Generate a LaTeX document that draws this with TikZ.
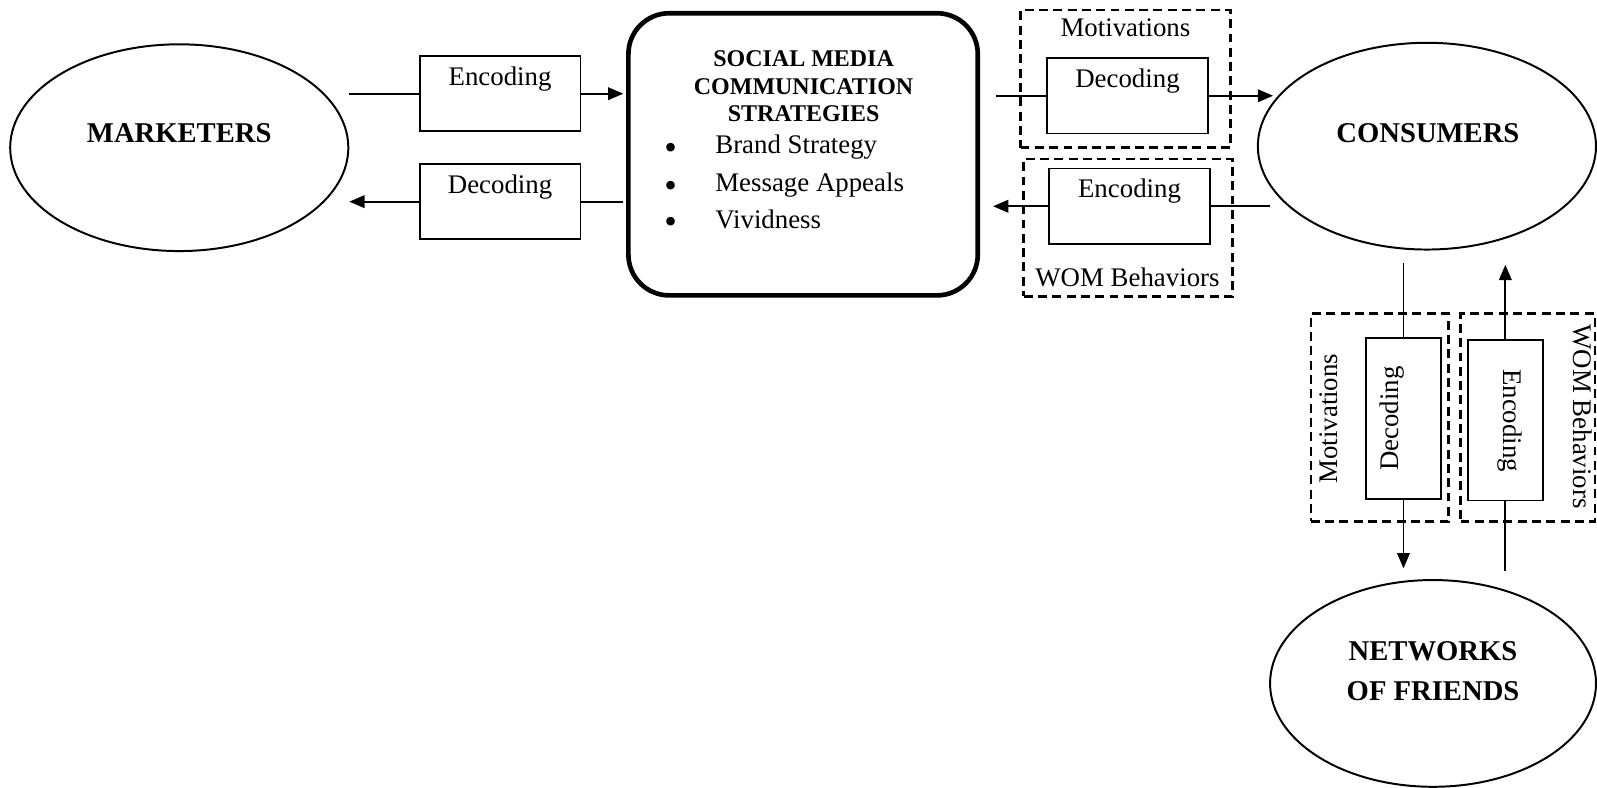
\documentclass[tikz,border=0pt]{standalone}
\usepackage{fontspec}
\setmainfont{Liberation Serif}
\usetikzlibrary{shapes,arrows.meta,positioning,calc}

\newcommand{\bigdot}{\makebox[10mm][l]{\smash{\raisebox{-1.1mm}{\fontsize{20}{20}\selectfont\textbullet}}}}

\begin{document}
\begin{tikzpicture}[x=0.2mm, y=-0.2mm,
    actor/.style={draw, ellipse, line width=1.1pt, minimum width=6.64cm,
                  minimum height=4.06cm},
    actor_lbl/.style={font=\fontsize{16}{22.5}\selectfont\bfseries, align=center},
    code_box/.style={draw, line width=1pt, minimum width=3.16cm,
                     minimum height=1.48cm},
    vcode_box/.style={draw, line width=1pt, minimum width=1.48cm,
                      minimum height=3.16cm},
    code_txt/.style={font=\fontsize{15}{18}\selectfont, inner sep=0pt},
    group_box/.style={draw, line width=1.4pt, dash pattern=on 5pt off 3pt},
    main_box/.style={draw, line width=2.6pt, rounded corners=8mm,
                     minimum width=6.86cm, minimum height=5.54cm},
    arr/.style={-{Triangle[length=8.5pt, width=7pt]}, line width=1.1pt},
    ln/.style={line width=1.1pt}
]
\useasboundingbox (0,0) rectangle (1568,773);

% Actors
\node[actor] (mkt) at (176,145) {};
\node[actor_lbl] (mkt_lbl) at (176,131) {MARKETERS};
\node[actor] (cons) at (1401,143.5) {};
\node[actor_lbl] (cons_lbl) at (1402,131) {CONSUMERS};
\node[actor, minimum width=6.4cm] (net) at (1407,671) {};
\node[actor_lbl] (net_lbl) at (1407,659) {NETWORKS\\OF FRIENDS};

% Strategies box (centre)
\node[main_box] (smcs) at (788.5,151.5) {};
\node[font=\fontsize{13.4}{15.4}\selectfont\bfseries, align=center] (smcs_head)
    at (789,85) {SOCIAL MEDIA\\COMMUNICATION\\STRATEGIES};
\node[code_txt, anchor=base west] (b1) at (652,151) {\bigdot Brand Strategy};
\node[code_txt, anchor=base west] (b2) at (652,188) {\bigdot Message Appeals};
\node[code_txt, anchor=base west] (b3) at (652,224) {\bigdot Vividness};

% Marketers <-> strategies
\node[code_box] (enc_l) at (491,92) {};
\node[code_txt] (enc_l_t) at (491,78) {Encoding};
\node[code_box] (dec_l) at (491,198) {};
\node[code_txt] (dec_l_t) at (491,184) {Decoding};

\coordinate (mkt_out) at (343,92);
\coordinate (smcs_in) at (612,92);
\coordinate (smcs_out) at (612,198);
\coordinate (mkt_in) at (343,198);
\draw[ln] (mkt_out) -- (enc_l.west);
\draw[arr] (enc_l.east) -- (smcs_in);
\draw[ln] (smcs_out) -- (dec_l.east);
\draw[arr] (dec_l.west) -- (mkt_in);

% Strategies <-> consumers
\node[group_box, minimum width=4.12cm, minimum height=2.7cm] (mot_grp) at (1105,77.5) {};
\node[code_txt] (mot_t) at (1105,27) {Motivations};
\node[code_box] (dec_r) at (1107,94) {};
\node[code_txt] (dec_r_t) at (1107,80) {Decoding};

\node[group_box, minimum width=4.1cm, minimum height=2.7cm] (wom_grp) at (1107.5,223.5) {};
\node[code_txt] (wom_t) at (1107,272) {WOM Behaviors};
\node[code_box] (enc_r) at (1109,202.5) {};
\node[code_txt] (enc_r_t) at (1109,188) {Encoding};

\coordinate (smcs_out2) at (978,94);
\coordinate (cons_in) at (1250,94);
\coordinate (cons_out) at (1247,202.5);
\coordinate (smcs_in2) at (975,202.5);
\draw[ln] (smcs_out2) -- (dec_r.west);
\draw[arr] (dec_r.east) -- (cons_in);
\draw[ln] (cons_out) -- (enc_r.east);
\draw[arr] (enc_r.west) -- (smcs_in2);

% Consumers <-> networks of friends
\node[group_box, minimum width=2.7cm, minimum height=4.08cm] (mot_grp2) at (1354.5,410) {};
\node[code_txt, rotate=90] (mot_t2) at (1305,411) {Motivations};
\node[vcode_box] (dec_v) at (1378,411) {};
\node[code_txt, rotate=90] (dec_v_t) at (1367,411) {Decoding};

\node[group_box, minimum width=2.64cm, minimum height=4.08cm] (wom_grp2) at (1500,410) {};
\node[code_txt, rotate=-90] (wom_t2) at (1554,409) {WOM Behaviors};
\node[vcode_box] (enc_v) at (1478,412.5) {};
\node[code_txt, rotate=-90] (enc_v_t) at (1482,413) {Encoding};

\coordinate (cons_out2) at (1378,258);
\coordinate (net_in) at (1378,558);
\coordinate (net_out) at (1478,561);
\coordinate (cons_in2) at (1478,260);
\draw[ln] (cons_out2) -- (dec_v.north);
\draw[arr] (dec_v.south) -- (net_in);
\draw[ln] (net_out) -- (enc_v.south);
\draw[arr] (enc_v.north) -- (cons_in2);

\end{tikzpicture}
\end{document}
